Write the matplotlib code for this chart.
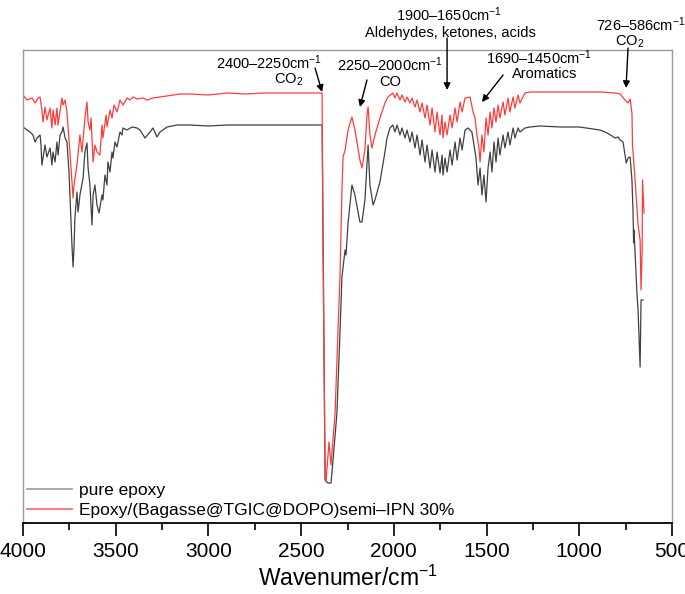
import matplotlib
matplotlib.use("Agg")
import matplotlib.pyplot as plt
from matplotlib.ticker import MultipleLocator

plt.rcParams['font.family'] = ['Liberation Sans', 'DejaVu Sans']
plt.rcParams['mathtext.fontset'] = 'custom'
plt.rcParams['mathtext.rm'] = 'Liberation Sans'
plt.rcParams['mathtext.it'] = 'Liberation Sans'
plt.rcParams['mathtext.default'] = 'regular'

# ---- data (wavenumber cm^-1, transmittance in arbitrary units) ----
epoxy_wn = [4000, 3978, 3962, 3946, 3935, 3924, 3908, 3903, 3898, 3881, 3871, 3854, 3844, 3838,
            3827, 3817, 3811, 3800, 3790, 3784, 3773, 3763, 3752, 3747, 3736, 3730, 3725, 3720,
            3709, 3703, 3693, 3676, 3666, 3655, 3649, 3639, 3628, 3622, 3612, 3601, 3590, 3574,
            3569, 3558, 3547, 3542, 3531, 3520, 3515, 3504, 3493, 3477, 3466, 3461, 3439, 3412,
            3385, 3369, 3342, 3315, 3299, 3277, 3261, 3223, 3169, 3100, 3000, 2900, 2800, 2700,
            2600, 2500, 2400, 2387, 2380, 2371, 2355, 2339, 2328, 2307, 2290, 2280, 2263, 2258,
            2247, 2226, 2210, 2183, 2172, 2156, 2139, 2129, 2112, 2102, 2075, 2048, 2037, 2021,
            2005, 1994, 1983, 1967, 1956, 1940, 1929, 1913, 1902, 1886, 1875, 1859, 1848, 1832,
            1821, 1805, 1794, 1778, 1767, 1751, 1740, 1735, 1724, 1713, 1697, 1686, 1670, 1659,
            1643, 1632, 1616, 1600, 1579, 1568, 1557, 1546, 1535, 1525, 1514, 1503, 1492, 1481,
            1471, 1460, 1449, 1438, 1428, 1411, 1401, 1384, 1374, 1357, 1347, 1330, 1320, 1293,
            1266, 1212, 1100, 1000, 888, 850, 823, 807, 791, 780, 764, 747, 737, 726, 716, 710,
            707, 705, 688, 683, 672, 667, 656]
epoxy_t = [396, 393, 391, 388, 381, 385, 388, 378, 358, 378, 366, 375, 358, 371,
           361, 381, 368, 388, 391, 396, 385, 381, 351, 328, 278, 256, 275, 305,
           331, 311, 328, 345, 371, 380, 355, 338, 298, 328, 338, 318, 310, 328,
           323, 348, 338, 361, 351, 371, 365, 381, 376, 391, 388, 395, 393, 396,
           395, 393, 385, 391, 395, 386, 391, 396, 398, 398, 397, 398, 398, 398,
           398, 398, 398, 398, 250, 43, 40, 40, 63, 110, 193, 246, 273, 268,
           300, 338, 328, 301, 301, 323, 378, 338, 318, 323, 341, 371, 385, 395,
           398, 391, 398, 388, 395, 385, 393, 381, 391, 375, 388, 368, 383, 361,
           378, 355, 373, 351, 371, 350, 368, 348, 365, 351, 373, 358, 381, 363,
           385, 373, 393, 395, 391, 378, 365, 338, 355, 328, 348, 321, 355, 371,
           351, 381, 361, 385, 368, 388, 375, 391, 378, 395, 385, 395, 391, 395,
           396, 397, 396, 396, 393, 390, 387, 385, 386, 383, 381, 360, 365, 366, 343, 310,
           280, 293, 226, 213, 156, 223, 223]

ipn_wn = [4000, 3978, 3951, 3935, 3919, 3908, 3898, 3892, 3881, 3871, 3854, 3844, 3838, 3827,
          3817, 3811, 3790, 3784, 3773, 3763, 3747, 3730, 3725, 3709, 3693, 3682, 3666, 3655,
          3649, 3639, 3633, 3622, 3612, 3601, 3585, 3574, 3569, 3552, 3547, 3531, 3520, 3509,
          3493, 3477, 3461, 3439, 3423, 3407, 3385, 3353, 3331, 3299, 3261, 3153, 3100, 3000,
          2900, 2800, 2700, 2600, 2500, 2400, 2387, 2382, 2371, 2366, 2350, 2339, 2317, 2301,
          2290, 2280, 2274, 2263, 2247, 2226, 2210, 2183, 2172, 2156, 2145, 2139, 2129, 2118,
          2102, 2075, 2048, 2032, 2005, 1994, 1983, 1967, 1956, 1940, 1929, 1913, 1902, 1886,
          1875, 1859, 1848, 1832, 1821, 1805, 1794, 1778, 1767, 1751, 1740, 1735, 1724, 1713,
          1697, 1686, 1670, 1659, 1643, 1632, 1616, 1589, 1573, 1562, 1552, 1541, 1535, 1525,
          1514, 1503, 1492, 1481, 1471, 1460, 1449, 1438, 1428, 1411, 1401, 1384, 1374, 1357,
          1347, 1330, 1320, 1293, 1266, 1200, 1100, 1000, 888, 807, 780, 753, 737, 726, 716,
          713, 699, 683, 672, 667, 661, 659, 651]
ipn_t = [428, 423, 425, 420, 425, 426, 413, 401, 416, 403, 415, 395, 413, 398,
         415, 398, 425, 418, 423, 411, 371, 325, 338, 358, 388, 371, 405, 421,
         401, 393, 405, 361, 378, 371, 368, 398, 385, 408, 396, 413, 405, 418,
         411, 423, 418, 425, 423, 426, 424, 425, 423, 425, 426, 429, 429, 428,
         430, 429, 430, 430, 430, 430, 430, 273, 53, 41, 81, 58, 110, 193,
         250, 333, 366, 373, 393, 406, 393, 363, 355, 373, 408, 416, 388, 375,
         388, 405, 420, 426, 430, 425, 430, 423, 428, 421, 426, 420, 425, 416,
         423, 411, 420, 405, 418, 398, 415, 391, 411, 388, 408, 385, 401, 388,
         408, 395, 415, 401, 421, 411, 425, 426, 411, 405, 388, 375, 361, 388,
         371, 405, 388, 411, 395, 415, 401, 418, 405, 421, 408, 425, 411, 426,
         415, 428, 420, 430, 431, 431, 431, 431, 431, 430, 429, 423, 420, 424, 410,
         378, 343, 298, 283, 233, 273, 343, 310]

series_labels = ['pure epoxy', 'Epoxy/(Bagasse@TGIC@DOPO)semi–IPN 30%']
series_colors = ['#404040', '#ff3c3c']

annotations = [
    # (line1, line2, x1, y1, x2, y2, arrow tail x, y, arrow head x, y)
    ('2400–2250cm$^{-1}$', 'CO$_2$', 2673, 460, 2568, 443, 2425, 455, 2387, 431),
    ('2250–2000cm$^{-1}$', 'CO', 2021, 458, 2021, 441, 2145, 443, 2183, 416),
    ('1900–1650cm$^{-1}$', 'Aldehydes, ketones, acids', 1705, 508, 1697, 490, 1713, 485, 1713, 433),
    ('1690–1450cm$^{-1}$', 'Aromatics', 1217, 465, 1188, 449, 1411, 448, 1525, 421),
    ('726–586cm$^{-1}$', 'CO$_2$', 670, 498, 729, 481, 737, 475, 748, 435),
]

fig = plt.figure(figsize=(6.85, 5.94), dpi=100)
ax = fig.add_axes([23 / 685, 71 / 594, 649 / 685, 473 / 594])

ax.plot(epoxy_wn, epoxy_t, color=series_colors[0], lw=0.9, label=series_labels[0])
ax.plot(ipn_wn, ipn_t, color=series_colors[1], lw=0.9, label=series_labels[1])

ax.set_xlim(4000, 500)
ax.set_ylim(0, 473)
ax.set_yticks([])
ax.xaxis.set_major_locator(MultipleLocator(500))
ax.xaxis.set_minor_locator(MultipleLocator(250))
ax.tick_params(axis='x', which='major', direction='out', length=9, width=1.2,
               labelsize=15, pad=5, color='black')
ax.tick_params(axis='x', which='minor', direction='out', length=5, width=1.2, color='black')
for s in ['left', 'top', 'right']:
    ax.spines[s].set_color('#999999')
    ax.spines[s].set_linewidth(1.0)
ax.spines['bottom'].set_color('black')
ax.spines['bottom'].set_linewidth(1.3)

ax.set_xlabel('Wavenumer/cm$^{-1}$', fontsize=16.5, labelpad=3)

for l1, l2, x1, y1, x2, y2, tx, ty, hx, hy in annotations:
    ax.text(x1, y1, l1, ha='center', va='center', fontsize=10.5, clip_on=False)
    ax.text(x2, y2, l2, ha='center', va='center', fontsize=10.5, clip_on=False)
    ax.annotate('', xy=(hx, hy), xytext=(tx, ty), annotation_clip=False,
                arrowprops=dict(arrowstyle='-|>', color='black', lw=1.0,
                                mutation_scale=10, shrinkA=0, shrinkB=0))

leg = ax.legend(loc='lower left', bbox_to_anchor=(0.006, 0.01), frameon=False,
                fontsize=12.5, handlelength=2.6, handletextpad=0.4,
                labelspacing=0.3, borderpad=0, borderaxespad=0)
for h in leg.get_lines():
    h.set_linewidth(1.2)
leg.get_lines()[0].set_color('#999999')
leg.get_lines()[1].set_color('#ff6666')

fig.savefig('out.png', dpi=100)
